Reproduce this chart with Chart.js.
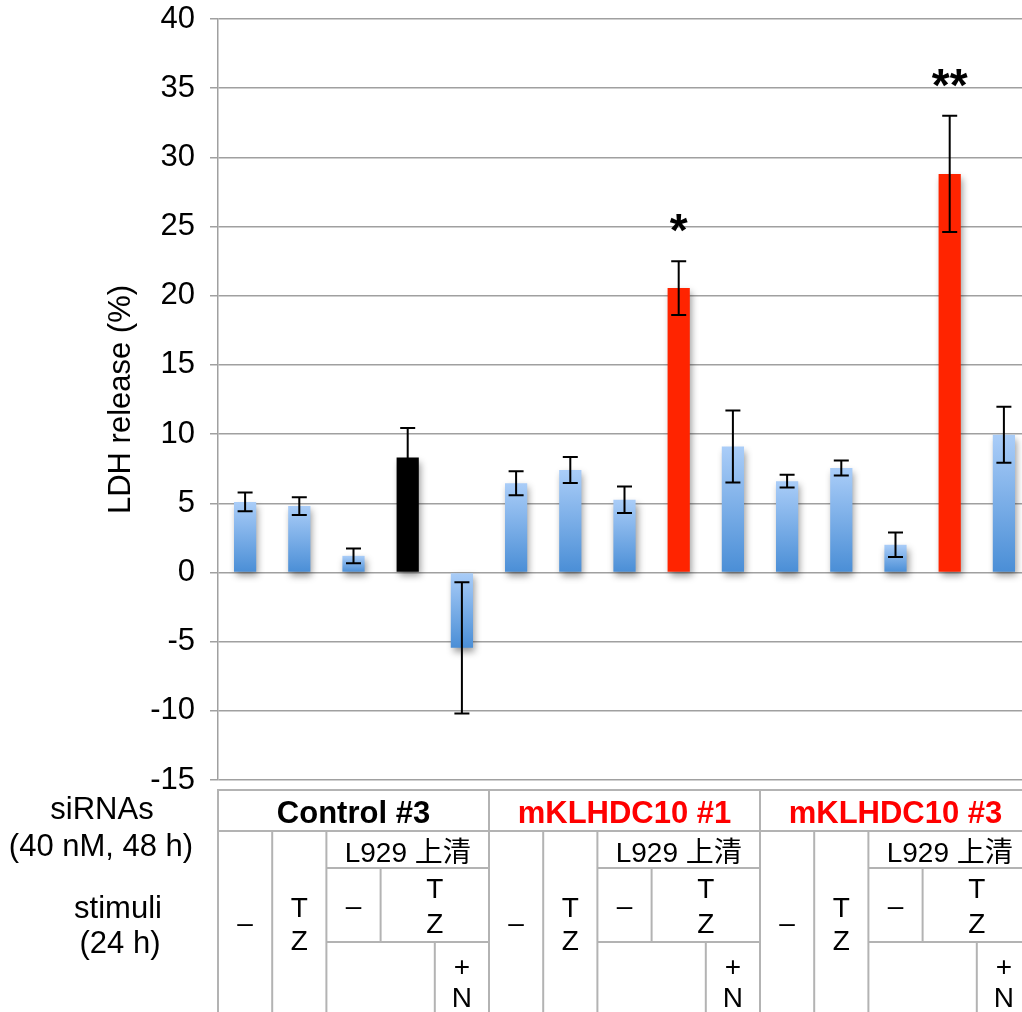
<!DOCTYPE html>
<html>
<head>
<meta charset="utf-8">
<script src="https://cdn.jsdelivr.net/npm/chart.js@4.4.0/dist/chart.umd.min.js"></script>
<style>
  html, body { margin: 0; padding: 0; background: #fff; overflow: hidden; }
  #wrap { position: relative; width: 1032px; height: 1012px; }
</style>
</head>
<body>
<div id="wrap"><canvas id="chart"></canvas></div>
<script>
// --- data ---
const groups = ['Control #3', 'mKLHDC10 #1', 'mKLHDC10 #3'];
const groupColors = ['#000000', '#ff0000', '#ff0000'];
const stimuli = ['–', 'TZ', 'L929 上清 –', 'L929 上清 TZ', 'L929 上清 TZ+N'];
const categories = groups.flatMap(g => stimuli.map(s => `${g} / ${s}`));
const values = [5.1, 4.8, 1.2, 8.3, -5.45, 6.45, 7.4, 5.25, 20.55, 9.1, 6.6, 7.55, 2.0, 28.8, 9.95];
const errors = [0.67, 0.64, 0.53, 2.14, 4.74, 0.87, 0.94, 0.96, 1.95, 2.6, 0.46, 0.54, 0.88, 4.2, 2.03];
const fills = ['blue', 'blue', 'blue', 'black', 'blue', 'blue', 'blue', 'blue', 'red', 'blue', 'blue', 'blue', 'blue', 'red', 'blue'];
const marks = ['', '', '', '', '', '', '', '', '*', '', '', '', '', '**', ''];
const yMin = -15, yMax = 40, yStep = 5;
const yTitle = 'LDH release (%)';
const rowLabels = ['siRNAs', '(40 nM, 48 h)', 'stimuli', '(24 h)'];
const cellDash = '–';
const cellTZ = ['T', 'Z'];
const cellSup = 'L929 上清';
const cellN = ['+', 'N'];

const FONT = "'Liberation Sans', Arial, Helvetica, 'Noto Sans CJK JP', sans-serif";
Chart.defaults.font.family = FONT;
Chart.defaults.color = '#000';

function barFill(ctx) {
  const i = ctx.dataIndex;
  if (fills[i] === 'black') return '#000000';
  if (fills[i] === 'red') return '#ff2400';
  const chart = ctx.chart;
  const y = chart.scales.y;
  if (!y || !chart.chartArea) return '#7fb0ec';
  const top = y.getPixelForValue(Math.max(values[i], 0));
  const bot = y.getPixelForValue(Math.min(values[i], 0));
  const g = chart.ctx.createLinearGradient(0, top, 0, bot);
  g.addColorStop(0, '#aacdf8');
  g.addColorStop(1, '#4a8ed6');
  return g;
}

function text(c, str, x, y, size, bold, color) {
  c.font = `${bold ? 'bold ' : ''}${size}px ${FONT}`;
  c.fillStyle = color || '#000';
  c.textAlign = 'center';
  c.textBaseline = 'alphabetic';
  c.fillText(str, x, y);
}

// table of siRNAs / stimuli under the plot, columns follow the x scale
function drawTable(chart) {
  const c = chart.ctx;
  const x = chart.scales.x;
  const w = x.getPixelForValue(1) - x.getPixelForValue(0);
  const edge = i => x.getPixelForValue(0) - w / 2 + i * w;
  const mid = (a, b) => (edge(a) + edge(b)) / 2;
  const R0 = 790, R1 = 831, R2 = 868, R3 = 942, R4 = chart.height;
  const n = categories.length;
  c.save();
  c.strokeStyle = '#b3b3b3';
  c.lineWidth = 2;
  const line = (x1, y1, x2, y2) => { c.beginPath(); c.moveTo(x1, y1); c.lineTo(x2, y2); c.stroke(); };
  line(edge(0) - 1, R0, edge(n), R0);
  line(edge(0), R1, edge(n), R1);
  groups.forEach((g, gi) => {
    const s = gi * stimuli.length;
    line(edge(s), R0, edge(s), R4);
    line(edge(s + 1), R1, edge(s + 1), R4);
    line(edge(s + 2), R1, edge(s + 2), R4);
    line(edge(s + 2), R2, edge(s + 5), R2);
    line(edge(s + 2), R3, edge(s + 5), R3);
    line(edge(s + 3), R2, edge(s + 3), R3);
    line(edge(s + 4), R3, edge(s + 4), R4);

    text(c, g, mid(s, s + 5), 823, 31, true, groupColors[gi]);
    text(c, cellDash, mid(s, s + 1), 932, 28);
    text(c, cellTZ[0], mid(s + 1, s + 2), 917, 28);
    text(c, cellTZ[1], mid(s + 1, s + 2), 950, 28);
    text(c, cellSup, mid(s + 2, s + 5), 862, 28);
    text(c, cellDash, mid(s + 2, s + 3), 915, 28);
    text(c, cellTZ[0], mid(s + 3, s + 5), 898, 28);
    text(c, cellTZ[1], mid(s + 3, s + 5), 933, 28);
    text(c, cellN[0], mid(s + 4, s + 5), 976, 28);
    text(c, cellN[1], mid(s + 4, s + 5), 1007, 28);
  });
  line(edge(n), R0, edge(n), R4);

  text(c, rowLabels[0], 102, 819, 31);
  text(c, rowLabels[1], 101, 856, 31);
  text(c, rowLabels[2], 118, 918, 31);
  text(c, rowLabels[3], 120, 953, 31);
  c.restore();
}

const overlay = {
  id: 'overlay',
  beforeDatasetsDraw(chart) {
    const c = chart.ctx;
    c.save();
    c.shadowColor = 'rgba(0,0,0,0.4)';
    c.shadowBlur = 7;
    c.shadowOffsetX = 2;
    c.shadowOffsetY = 4;
  },
  afterDatasetsDraw(chart) {
    const c = chart.ctx;
    c.restore();
    const y = chart.scales.y;
    const meta = chart.getDatasetMeta(0);
    c.save();
    c.strokeStyle = '#000';
    c.lineWidth = 2;
    meta.data.forEach((bar, i) => {
      const hi = y.getPixelForValue(values[i] + errors[i]);
      const lo = y.getPixelForValue(values[i] - errors[i]);
      c.beginPath();
      c.moveTo(bar.x, hi); c.lineTo(bar.x, lo);
      c.moveTo(bar.x - 7.5, hi); c.lineTo(bar.x + 7.5, hi);
      c.moveTo(bar.x - 7.5, lo); c.lineTo(bar.x + 7.5, lo);
      c.stroke();
      if (marks[i]) text(c, marks[i], bar.x, hi - 15, 46, true);
    });
    c.restore();
  },
  afterDraw(chart) { drawTable(chart); }
};

new Chart(document.getElementById('chart'), {
  type: 'bar',
  data: {
    labels: categories,
    datasets: [{
      label: yTitle,
      data: values,
      backgroundColor: barFill,
      borderWidth: 0,
      categoryPercentage: 1,
      barPercentage: 0.41,
    }],
  },
  options: {
    responsive: true,
    maintainAspectRatio: false,
    animation: false,
    layout: { padding: { top: 19, bottom: 232, left: 0, right: 1 } },
    plugins: { legend: { display: false }, tooltip: { enabled: false } },
    scales: {
      x: { display: false },
      y: {
        min: yMin, max: yMax,
        ticks: { stepSize: yStep, font: { size: 31 }, color: '#000', padding: 15 },
        grid: { color: '#a0a0a0', lineWidth: 1.5, tickLength: 8 },
        border: { color: '#a0a0a0', width: 1.5 },
        title: { display: true, text: yTitle, font: { size: 31 }, color: '#000', padding: { top: 103, bottom: 0 } },
        afterFit(scale) {
          scale.width = 218;
          scale.paddingTop = 0;
          scale.paddingBottom = 0;
        },
      },
    },
  },
  plugins: [overlay],
});
</script>
</body>
</html>
